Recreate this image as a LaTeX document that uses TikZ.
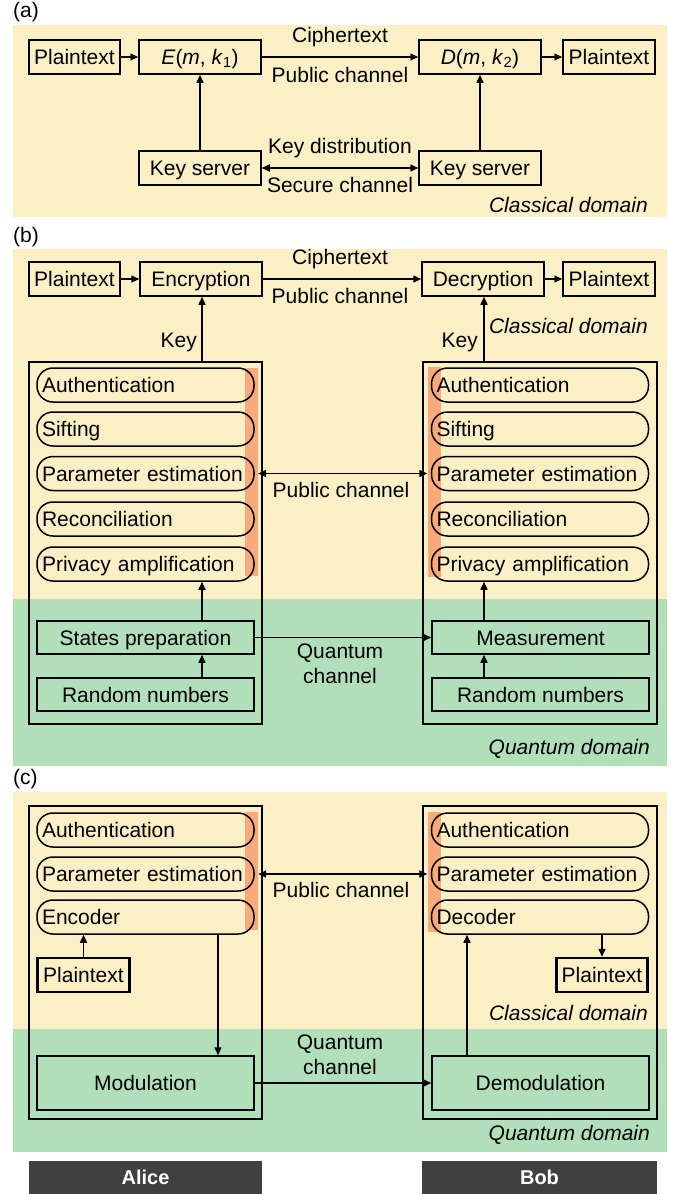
\documentclass[tikz,border=0pt]{standalone}
\usepackage{fontspec}
\setmainfont{Liberation Sans}
\usetikzlibrary{arrows.meta}
\definecolor{cbeige}{HTML}{FBEFC6}
\definecolor{cgreen}{HTML}{B1DFB9}
\definecolor{corange}{HTML}{F9A97A}
\definecolor{cbar}{HTML}{404040}

\begin{document}
\begin{tikzpicture}[x=1pt,y=-1pt, font=\fontsize{21}{25}\selectfont,
  box/.style={draw, line width=1.5pt, inner sep=0pt, minimum height=34pt, text height=16pt, text depth=1pt},
  pill/.style={draw, line width=1.5pt, rounded corners=16pt, minimum height=34pt, text width=207pt,
    inner xsep=5pt, inner ysep=0pt, align=left, text height=16pt, text depth=1pt},
  frame/.style={draw, line width=1.5pt, inner sep=0pt},
  arr/.style={line width=1.5pt, -{Triangle[length=8pt,width=7pt]}},
  darr/.style={line width=1.5pt, {Triangle[length=8pt,width=7pt]}-{Triangle[length=8pt,width=7pt]}},
  lbl/.style={inner sep=0pt, align=center},
  dom/.style={inner sep=0pt, anchor=east, font=\fontsize{21}{25}\selectfont\itshape},
  stripe/.style={fill=corange, draw=none, inner sep=0pt, minimum width=13pt},
  bar/.style={fill=cbar, text=white, font=\fontsize{20}{24}\selectfont\bfseries, inner sep=0pt,
    minimum height=33pt, text height=15pt, text depth=1pt}
]
\useasboundingbox (0,0) rectangle (678,1194);

% ---------- backgrounds ----------
\fill[cbeige] (13,25) rectangle (667,217);
\fill[cbeige] (13,249) rectangle (667,599);
\fill[cgreen] (13,599) rectangle (667,766);
\fill[cbeige] (13,792) rectangle (667,1029);
\fill[cgreen] (13,1029) rectangle (667,1152);

% ---------- (a) classical key distribution ----------
\node[lbl, anchor=west] (la) at (13,12) {(a)};
\node[box, minimum width=91pt]  (pa1) at (74.5,57) {Plaintext};
\node[box, minimum width=122pt] (ea)  at (200,57) {\textit{E}(\textit{m}, \textit{k}\textsubscript{1})};
\node[box, minimum width=122pt] (da)  at (480,57) {\textit{D}(\textit{m}, \textit{k}\textsubscript{2})};
\node[box, minimum width=92pt]  (pa2) at (609,57) {Plaintext};
\node[box, minimum width=122pt] (ks1) at (200,168) {Key server};
\node[box, minimum width=122pt] (ks2) at (480,168) {Key server};
\draw[arr] (pa1) -- (ea);
\draw[arr] (ea) -- (da);
\draw[arr] (da) -- (pa2);
\draw[arr] (ks1) -- (ea);
\draw[arr] (ks2) -- (da);
\draw[darr] (ks1) -- (ks2);
\node[lbl] (cta) at (340,37) {Ciphertext};
\node[lbl] (pca) at (340,75) {Public channel};
\node[lbl] (kda) at (340,148) {Key distribution};
\node[lbl] (sca) at (340,185) {Secure channel};
\node[dom] (cda) at (648,205) {Classical domain};

% ---------- (b) QKD ----------
\node[lbl, anchor=west] (lb) at (13,237) {(b)};
\node[box, minimum width=91pt]  (pb1) at (74.5,279) {Plaintext};
\node[box, minimum width=122pt] (enc) at (201,279) {Encryption};
\node[box, minimum width=122pt] (dec) at (483,279) {Decryption};
\node[box, minimum width=92pt]  (pb2) at (609,279) {Plaintext};
\draw[arr] (pb1) -- (enc);
\draw[arr] (enc) -- (dec);
\draw[arr] (dec) -- (pb2);
\node[lbl] (ctb) at (340,259) {Ciphertext};
\node[lbl] (pcb) at (340,296) {Public channel};

\node[frame, minimum width=233pt, minimum height=362pt] (alb) at (145.5,543) {};
\node[frame, minimum width=234pt, minimum height=362pt] (bob) at (540,543) {};
\coordinate (colL) at (202,0);
\coordinate (colR) at (484,0);
\draw[arr] (alb.north -| colL) -- (enc.south -| colL);
\draw[arr] (bob.north -| colR) -- (dec.south -| colR);
\node[lbl, anchor=east] (keyL) at (197,342) {Key};
\node[lbl, anchor=east] (keyR) at (478,342) {Key};
\node[dom] (cdb) at (648,326) {Classical domain};

\node[stripe, minimum height=208pt] (orbL) at (251.5,472) {};
\node[stripe, minimum height=210pt] (orbR) at (434,472) {};
\node[pill] (auL) at (145.5,385) {Authentication};
\node[pill] (siL) at (145.5,429) {Sifting};
\node[pill] (peL) at (145.5,473.5) {Parameter estimation};
\node[pill] (reL) at (145.5,519) {Reconciliation};
\node[pill] (paL) at (145.5,564) {Privacy amplification};
\node[pill] (auR) at (540,385) {Authentication};
\node[pill] (siR) at (540,429) {Sifting};
\node[pill] (peR) at (540,473.5) {Parameter estimation};
\node[pill] (reR) at (540,519) {Reconciliation};
\node[pill] (paR) at (540,564) {Privacy amplification};
\draw[darr] (peL.east -| orbL.east) -- (peR.west -| orbR.west);
\node[lbl] (pcb2) at (341,490) {Public channel};

\node[box, minimum width=217pt, minimum height=33pt] (spL) at (145.5,637.5) {States preparation};
\node[box, minimum width=217pt, minimum height=33pt] (rnL) at (145.5,694.5) {Random numbers};
\node[box, minimum width=217pt, minimum height=33pt] (meR) at (540.5,637.5) {Measurement};
\node[box, minimum width=217pt, minimum height=33pt] (rnR) at (540.5,694.5) {Random numbers};
\draw[arr] (rnL.north -| colL) -- (spL.south -| colL);
\draw[arr] (spL.north -| colL) -- (paL.south -| colL);
\draw[arr] (rnR.north -| colR) -- (meR.south -| colR);
\draw[arr] (meR.north -| colR) -- (paR.south -| colR);
\draw[arr] (spL) -- (meR);
\node[lbl] (qcb) at (340,663.5) {Quantum\\channel};
\node[dom] (qdb) at (650,749) {Quantum domain};

% ---------- (c) CV-QKD style link ----------
\node[lbl, anchor=west] (lc) at (13,779) {(c)};
\node[frame, minimum width=233pt, minimum height=313pt] (alc) at (145.5,962.5) {};
\node[frame, minimum width=234pt, minimum height=313pt] (boc) at (540,962.5) {};
\node[stripe, minimum height=118pt] (orcL) at (251.5,871) {};
\node[stripe, minimum height=120pt] (orcR) at (434,872) {};
\node[pill] (auCL) at (145.5,830) {Authentication};
\node[pill] (peCL) at (145.5,874) {Parameter estimation};
\node[pill] (enCL) at (145.5,917) {Encoder};
\node[pill] (auCR) at (540,830) {Authentication};
\node[pill] (peCR) at (540,874) {Parameter estimation};
\node[pill] (deCR) at (540,917) {Decoder};
\draw[darr] (peCL.east -| orcL.east) -- (peCR.west -| orcR.west);
\node[lbl] (pcc) at (341,890) {Public channel};

\node[box, line width=2.5pt, minimum width=92pt] (ptCL) at (83.5,975) {Plaintext};
\node[box, line width=2.5pt, minimum width=91pt] (ptCR) at (602,975) {Plaintext};
\node[box, minimum width=217pt, minimum height=54pt] (mod) at (145.5,1083) {Modulation};
\node[box, minimum width=217pt, minimum height=54pt] (dem) at (540.5,1083) {Demodulation};
\coordinate (downL) at (218,0);
\coordinate (upR) at (467,0);
\draw[arr] (ptCL) -- (ptCL |- enCL.south);
\draw[arr] (enCL.south -| downL) -- (mod.north -| downL);
\draw[arr] (dem.north -| upR) -- (deCR.south -| upR);
\draw[arr] (deCR.south -| ptCR) -- (ptCR);
\draw[arr] (mod) -- (dem);
\node[lbl] (qcc) at (340,1055) {Quantum\\channel};
\node[dom] (cdc) at (648,1013) {Classical domain};
\node[dom] (qdc) at (650,1135) {Quantum domain};

% ---------- party labels ----------
\node[bar, minimum width=233pt] (alice) at (145.5,1177.5) {Alice};
\node[bar, minimum width=235pt] (bobl) at (539.5,1177.5) {Bob};
\end{tikzpicture}
\end{document}
